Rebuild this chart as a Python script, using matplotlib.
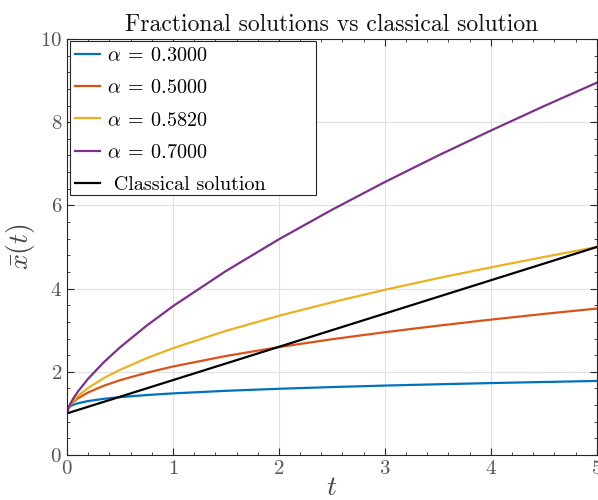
import matplotlib
matplotlib.use("Agg")
import matplotlib.pyplot as plt
from matplotlib.ticker import MultipleLocator
from matplotlib.patches import Rectangle

plt.rcParams['font.family'] = 'serif'
plt.rcParams['font.serif'] = ['cmr10']
plt.rcParams['mathtext.fontset'] = 'cm'
plt.rcParams['axes.formatter.use_mathtext'] = True

t = [0, 0.01, 0.03, 0.06, 0.1, 0.2, 0.35, 0.5, 0.75, 1, 1.5, 2, 2.5, 3, 3.5, 4, 4.5, 5]
x_a030 = [1.0, 1.121, 1.168, 1.207, 1.241, 1.297, 1.351, 1.391, 1.441, 1.481, 1.543, 1.592, 1.633, 1.669, 1.700, 1.729, 1.755, 1.780]
x_a050 = [1.0, 1.113, 1.195, 1.276, 1.356, 1.504, 1.667, 1.797, 1.976, 2.127, 2.380, 2.594, 2.782, 2.952, 3.108, 3.254, 3.391, 3.520]
x_a0582 = [1.0, 1.107, 1.204, 1.305, 1.410, 1.614, 1.851, 2.047, 2.325, 2.567, 2.984, 3.346, 3.671, 3.971, 4.250, 4.511, 4.760, 5.000]
x_a070 = [1.0, 1.103, 1.221, 1.360, 1.514, 1.835, 2.236, 2.586, 3.106, 3.577, 4.422, 5.186, 5.894, 6.562, 7.195, 7.799, 8.385, 8.950]
t_classical = [0, 5]
x_classical = [1.0, 5.0]

labels = [r'$\alpha\:=\:0.3000$', r'$\alpha\:=\:0.5000$', r'$\alpha\:=\:0.5820$', r'$\alpha\:=\:0.7000$', ' Classical solution']
colors = ['#0072BD', '#D95319', '#EDB120', '#7E2F8E', '#000000']

fig = plt.figure(figsize=(5.98, 5.0), dpi=100)
ax = fig.add_axes([0.112, 0.09, 0.886, 0.832])

series = [x_a030, x_a050, x_a0582, x_a070]
for ys, lab, c in zip(series, labels[:4], colors[:4]):
    ax.plot(t, ys, color=c, lw=1.6, label=lab)
ax.plot(t_classical, x_classical, color=colors[4], lw=1.6, label=labels[4])

ax.set_xlim(0, 5)
ax.set_ylim(0, 10)
ax.xaxis.set_major_locator(MultipleLocator(1))
ax.yaxis.set_major_locator(MultipleLocator(2))
ax.xaxis.set_minor_locator(MultipleLocator(0.2))
ax.yaxis.set_minor_locator(MultipleLocator(0.4))
ax.grid(True, which='major', color='#e0e0e0', lw=0.8)
ax.set_axisbelow(True)
ax.tick_params(which='both', direction='in', top=True, right=True, colors='#262626',
               labelcolor='#555555', labelsize=15)
ax.tick_params(which='major', length=5)
ax.tick_params(which='minor', length=2.5)
for s in ax.spines.values():
    s.set_color('#262626')
    s.set_linewidth(0.8)

ax.set_title('Fractional solutions vs classical solution', fontsize=17, color='#111111', pad=6)
ax.set_xlabel(r'$t$', fontsize=20, color='#444444', labelpad=-2)
ax.set_ylabel(r'$\bar{x}(t)$', fontsize=20, color='#444444', labelpad=2)

# legend frame drawn as a rectangle (MATLAB-like wide box)
box = Rectangle((0.0057, 0.625), 0.464, 0.370, transform=ax.transAxes,
                facecolor='white', edgecolor='#262626', lw=0.8, zorder=4.5)
ax.add_patch(box)
leg = ax.legend(loc='upper left', bbox_to_anchor=(0.0, 1.0), fontsize=14.5, frameon=False,
                borderaxespad=0.0, handlelength=1.25, handletextpad=0.35,
                labelspacing=0.7, borderpad=0.4)
leg.set_zorder(5)

fig.savefig('out.png', dpi=100)
